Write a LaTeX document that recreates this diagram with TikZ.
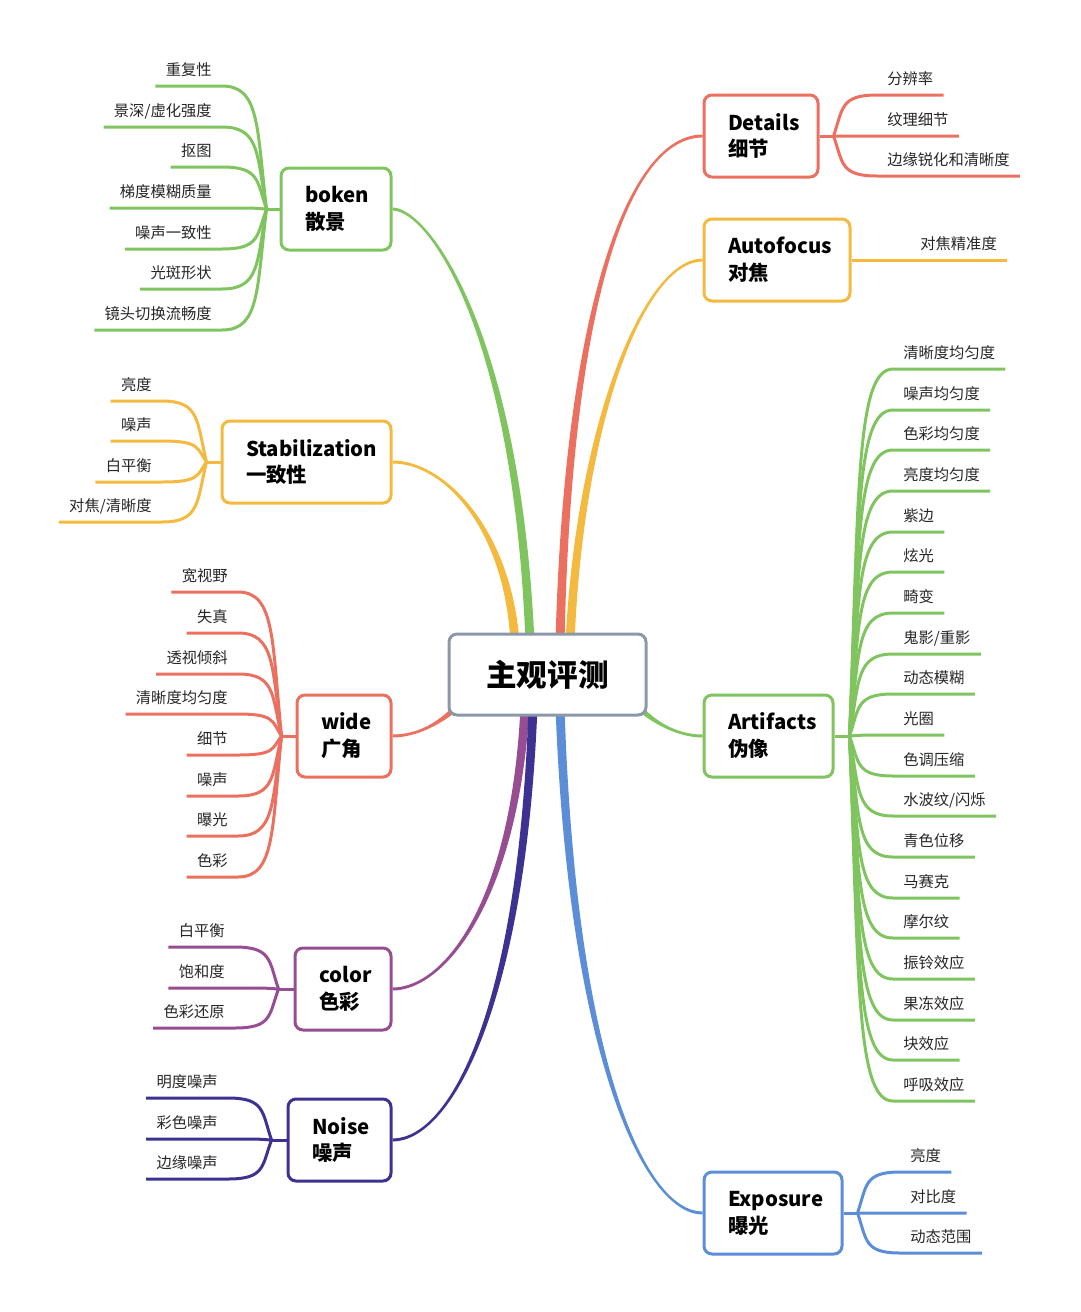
\documentclass[tikz,border=0pt]{standalone}
\usepackage{fontspec}
\setmainfont{Noto Sans CJK SC}
\usepackage{xcolor}
\definecolor{mmGreen}{RGB}{128,196,95}
\definecolor{mmRed}{RGB}{236,112,96}
\definecolor{mmOrange}{RGB}{244,186,64}
\definecolor{mmPurple}{RGB}{151,77,146}
\definecolor{mmIndigo}{RGB}{61,50,146}
\definecolor{mmBlue}{RGB}{92,142,216}
\definecolor{mmGray}{RGB}{140,152,170}
\usetikzlibrary{backgrounds, calc}
\newlength\pxu \setlength\pxu{0.02cm}
% tapered main branch: colour, start name, c1, c2, end name, end shift (left side), end shift (right side)
\newcommand\bough[7]{%
  \fill[#1] ([xshift=-4.5\pxu]#2) .. controls ([xshift=-3.5\pxu]#3) and ([yshift=#6\pxu]#4)
    .. ([yshift=#6\pxu]#5) -- ([yshift=#7\pxu]#5)
    .. controls ([yshift=#7\pxu]#4) and ([xshift=3.5\pxu]#3) .. ([xshift=4.5\pxu]#2) -- cycle;}

\begin{document}
\begin{tikzpicture}[x=0.02cm, y=-0.02cm,
  root/.style={rectangle, draw=mmGray, line width=3\pxu, fill=white,
               rounded corners=8\pxu, minimum width=197\pxu, minimum height=81\pxu,
               font=\fontsize{17.4}{20}\selectfont\bfseries},
  topic/.style={rectangle, line width=3\pxu, fill=white, rounded corners=8\pxu,
                minimum height=82\pxu, inner xsep=24\pxu, align=left,
                font=\fontsize{11.6}{15.3}\selectfont\bfseries},
  leafL/.style={anchor=south east, inner xsep=10\pxu, inner ysep=10\pxu, text depth=0pt,
                font=\fontsize{8.7}{10}\selectfont, text=black!85},
  leafR/.style={leafL, anchor=south west},
  twig/.style={line width=3\pxu},
  sweep/.style={to path={.. controls ($(\tikztostart)!0.85!(\tikztotarget |- \tikztostart)$)
      and ($(\tikztotarget)!0.4!(\tikztostart)!0.45!(\tikztotarget |- \tikztostart)$) .. (\tikztotarget)}}
]
\useasboundingbox (0,0) rectangle (1080,1312);

% Centre
\node[root] (root) at (547.5,674.5) {主观评测};

% Topics, left
\node[topic, draw=mmGreen, text width=62\pxu]   (boken) at (336,209)   {boken\\散景};
\node[topic, draw=mmOrange, text width=121\pxu] (stab)  at (306.5,462) {Stabilization\\一致性};
\node[topic, draw=mmRed, text width=46\pxu]     (wide)  at (344,736)   {wide\\广角};
\node[topic, draw=mmPurple, text width=48\pxu]  (color) at (343,989)   {color\\色彩};
\node[topic, draw=mmIndigo, text width=55\pxu]  (noise) at (339.5,1140) {Noise\\噪声};

% Topics, right
\node[topic, draw=mmRed, text width=66\pxu]    (details)   at (761,136)   {Details\\细节};
\node[topic, draw=mmOrange, text width=98\pxu] (autofocus) at (777,260)   {Autofocus\\对焦};
\node[topic, draw=mmGreen, text width=81\pxu]  (artifacts) at (768.5,736) {Artifacts\\伪像};
\node[topic, draw=mmBlue, text width=90\pxu]   (exposure)  at (773,1213)  {Exposure\\曝光};

% Branch roots inside the centre box
\coordinate (sBk) at ([xshift=-17.5\pxu,yshift=-10\pxu]root.north);
\coordinate (sSt) at ([xshift=-32.5\pxu,yshift=-10\pxu]root.north);
\coordinate (sDt) at ([xshift=12.5\pxu,yshift=-10\pxu]root.north);
\coordinate (sAf) at ([xshift=22.5\pxu,yshift=-10\pxu]root.north);
\coordinate (sWd) at ([xshift=14\pxu,yshift=14\pxu]root.south west);
\coordinate (sAr) at ([xshift=-14\pxu,yshift=14\pxu]root.south east);
\coordinate (sCl) at ([xshift=-22.5\pxu,yshift=10\pxu]root.south);
\coordinate (sNs) at ([xshift=-14.5\pxu,yshift=10\pxu]root.south);
\coordinate (sEx) at ([xshift=12.5\pxu,yshift=10\pxu]root.south);

% Forks
\coordinate (bkF) at ([xshift=-13\pxu]boken.west);
\coordinate (stF) at ([xshift=-14\pxu]stab.west);
\coordinate (wdF) at ([xshift=-14\pxu]wide.west);
\coordinate (clF) at ([xshift=-15\pxu]color.west);
\coordinate (nsF) at ([xshift=-15\pxu]noise.west);
\coordinate (dtF) at ([xshift=14\pxu]details.east);
\coordinate (arF) at ([xshift=15\pxu]artifacts.east);
\coordinate (exF) at ([xshift=14\pxu]exposure.east);

% Leaves: boken
\node[leafL] (bk1) at (222,86)  {重复性};
\node[leafL] (bk2) at (222,127) {景深/虚化强度};
\node[leafL] (bk3) at (222,167) {抠图};
\node[leafL] (bk4) at (222,208) {梯度模糊质量};
\node[leafL] (bk5) at (222,249) {噪声一致性};
\node[leafL] (bk6) at (222,289) {光斑形状};
\node[leafL] (bk7) at (222,330) {镜头切换流畅度};

% Leaves: stabilization
\node[leafL] (st1) at (162,401) {亮度};
\node[leafL] (st2) at (162,441) {噪声};
\node[leafL] (st3) at (162,482) {白平衡};
\node[leafL] (st4) at (162,522) {对焦/清晰度};

% Leaves: wide
\node[leafL] (wd1) at (238,592) {宽视野};
\node[leafL] (wd2) at (238,633) {失真};
\node[leafL] (wd3) at (238,674) {透视倾斜};
\node[leafL] (wd4) at (238,714) {清晰度均匀度};
\node[leafL] (wd5) at (238,755) {细节};
\node[leafL] (wd6) at (238,796) {噪声};
\node[leafL] (wd7) at (238,836) {曝光};
\node[leafL] (wd8) at (238,877) {色彩};

% Leaves: color
\node[leafL] (cl1) at (235,947)  {白平衡};
\node[leafL] (cl2) at (235,988)  {饱和度};
\node[leafL] (cl3) at (235,1028) {色彩还原};

% Leaves: noise
\node[leafL] (ns1) at (228,1098) {明度噪声};
\node[leafL] (ns2) at (228,1139) {彩色噪声};
\node[leafL] (ns3) at (228,1179) {边缘噪声};

% Leaves: details
\node[leafR] (dt1) at (877,95)  {分辨率};
\node[leafR] (dt2) at (877,136) {纹理细节};
\node[leafR] (dt3) at (877,176) {边缘锐化和清晰度};

% Leaves: autofocus
\node[leafR] (af1) at (910,260) {对焦精准度};

% Leaves: artifacts
\node[leafR] (ar1)  at (893,369)  {清晰度均匀度};
\node[leafR] (ar2)  at (893,410)  {噪声均匀度};
\node[leafR] (ar3)  at (893,450)  {色彩均匀度};
\node[leafR] (ar4)  at (893,491)  {亮度均匀度};
\node[leafR] (ar5)  at (893,532)  {紫边};
\node[leafR] (ar6)  at (893,572)  {炫光};
\node[leafR] (ar7)  at (893,613)  {畸变};
\node[leafR] (ar8)  at (893,654)  {鬼影/重影};
\node[leafR] (ar9)  at (893,694)  {动态模糊};
\node[leafR] (ar10) at (893,735)  {光圈};
\node[leafR] (ar11) at (893,776)  {色调压缩};
\node[leafR] (ar12) at (893,816)  {水波纹/闪烁};
\node[leafR] (ar13) at (893,857)  {青色位移};
\node[leafR] (ar14) at (893,898)  {马赛克};
\node[leafR] (ar15) at (893,938)  {摩尔纹};
\node[leafR] (ar16) at (893,979)  {振铃效应};
\node[leafR] (ar17) at (893,1020) {果冻效应};
\node[leafR] (ar18) at (893,1060) {块效应};
\node[leafR] (ar19) at (893,1101) {呼吸效应};

% Leaves: exposure
\node[leafR] (ex1) at (900,1172) {亮度};
\node[leafR] (ex2) at (900,1213) {对比度};
\node[leafR] (ex3) at (900,1253) {动态范围};

\begin{scope}[on background layer]
% Main branches
\bough{mmGreen}{sBk}{517,330}{428,209}{boken.east}{-1.5}{1.5}
\bough{mmOrange}{sSt}{508,530}{445,462}{stab.east}{-1.5}{1.5}
\bough{mmRed}{sWd}{440,725}{415,736}{wide.east}{1.5}{-1.5}
\bough{mmPurple}{sCl}{515,900}{445,989}{color.east}{1.5}{-1.5}
\bough{mmIndigo}{sNs}{522,1010}{450,1140}{noise.east}{1.5}{-1.5}
\bough{mmRed}{sDt}{568,300}{630,136}{details.west}{1.5}{-1.5}
\bough{mmOrange}{sAf}{580,420}{645,260}{autofocus.west}{1.5}{-1.5}
\bough{mmGreen}{sAr}{655,725}{680,736}{artifacts.west}{-1.5}{1.5}
\bough{mmBlue}{sEx}{572,1060}{645,1213}{exposure.west}{-1.5}{1.5}

% Stubs
\draw[twig, mmGreen]  (boken.west) -- (bkF);
\draw[twig, mmOrange] (stab.west) -- (stF);
\draw[twig, mmRed]    (wide.west) -- (wdF);
\draw[twig, mmPurple] (color.west) -- (clF);
\draw[twig, mmIndigo] (noise.west) -- (nsF);
\draw[twig, mmRed]    (details.east) -- (dtF);
\draw[twig, mmGreen]  (artifacts.east) -- (arF);
\draw[twig, mmBlue]   (exposure.east) -- (exF);

% Twigs: boken
\draw[twig, mmGreen] (bk1.south west) -- (bk1.south east) to[sweep] (bkF);
\draw[twig, mmGreen] (bk2.south west) -- (bk2.south east) to[sweep] (bkF);
\draw[twig, mmGreen] (bk3.south west) -- (bk3.south east) to[sweep] (bkF);
\draw[twig, mmGreen] (bk4.south west) -- (bk4.south east) to[sweep] (bkF);
\draw[twig, mmGreen] (bk5.south west) -- (bk5.south east) to[sweep] (bkF);
\draw[twig, mmGreen] (bk6.south west) -- (bk6.south east) to[sweep] (bkF);
\draw[twig, mmGreen] (bk7.south west) -- (bk7.south east) to[sweep] (bkF);

% Twigs: stabilization
\draw[twig, mmOrange] (st1.south west) -- (st1.south east) to[sweep] (stF);
\draw[twig, mmOrange] (st2.south west) -- (st2.south east) to[sweep] (stF);
\draw[twig, mmOrange] (st3.south west) -- (st3.south east) to[sweep] (stF);
\draw[twig, mmOrange] (st4.south west) -- (st4.south east) to[sweep] (stF);

% Twigs: wide
\draw[twig, mmRed] (wd1.south west) -- (wd1.south east) to[sweep] (wdF);
\draw[twig, mmRed] (wd2.south west) -- (wd2.south east) to[sweep] (wdF);
\draw[twig, mmRed] (wd3.south west) -- (wd3.south east) to[sweep] (wdF);
\draw[twig, mmRed] (wd4.south west) -- (wd4.south east) to[sweep] (wdF);
\draw[twig, mmRed] (wd5.south west) -- (wd5.south east) to[sweep] (wdF);
\draw[twig, mmRed] (wd6.south west) -- (wd6.south east) to[sweep] (wdF);
\draw[twig, mmRed] (wd7.south west) -- (wd7.south east) to[sweep] (wdF);
\draw[twig, mmRed] (wd8.south west) -- (wd8.south east) to[sweep] (wdF);

% Twigs: color
\draw[twig, mmPurple] (cl1.south west) -- (cl1.south east) to[sweep] (clF);
\draw[twig, mmPurple] (cl2.south west) -- (cl2.south east) to[sweep] (clF);
\draw[twig, mmPurple] (cl3.south west) -- (cl3.south east) to[sweep] (clF);

% Twigs: noise
\draw[twig, mmIndigo] (ns1.south west) -- (ns1.south east) to[sweep] (nsF);
\draw[twig, mmIndigo] (ns2.south west) -- (ns2.south east) to[sweep] (nsF);
\draw[twig, mmIndigo] (ns3.south west) -- (ns3.south east) to[sweep] (nsF);

% Twigs: details
\draw[twig, mmRed] (dt1.south east) -- (dt1.south west) to[sweep] (dtF);
\draw[twig, mmRed] (dt2.south east) -- (dt2.south west) to[sweep] (dtF);
\draw[twig, mmRed] (dt3.south east) -- (dt3.south west) to[sweep] (dtF);

% Twig: autofocus
\draw[twig, mmOrange] (autofocus.east) -- (af1.south east);

% Twigs: artifacts
\draw[twig, mmGreen] (ar1.south east) -- (ar1.south west) to[sweep] (arF);
\draw[twig, mmGreen] (ar2.south east) -- (ar2.south west) to[sweep] (arF);
\draw[twig, mmGreen] (ar3.south east) -- (ar3.south west) to[sweep] (arF);
\draw[twig, mmGreen] (ar4.south east) -- (ar4.south west) to[sweep] (arF);
\draw[twig, mmGreen] (ar5.south east) -- (ar5.south west) to[sweep] (arF);
\draw[twig, mmGreen] (ar6.south east) -- (ar6.south west) to[sweep] (arF);
\draw[twig, mmGreen] (ar7.south east) -- (ar7.south west) to[sweep] (arF);
\draw[twig, mmGreen] (ar8.south east) -- (ar8.south west) to[sweep] (arF);
\draw[twig, mmGreen] (ar9.south east) -- (ar9.south west) to[sweep] (arF);
\draw[twig, mmGreen] (ar10.south east) -- (ar10.south west) to[sweep] (arF);
\draw[twig, mmGreen] (ar11.south east) -- (ar11.south west) to[sweep] (arF);
\draw[twig, mmGreen] (ar12.south east) -- (ar12.south west) to[sweep] (arF);
\draw[twig, mmGreen] (ar13.south east) -- (ar13.south west) to[sweep] (arF);
\draw[twig, mmGreen] (ar14.south east) -- (ar14.south west) to[sweep] (arF);
\draw[twig, mmGreen] (ar15.south east) -- (ar15.south west) to[sweep] (arF);
\draw[twig, mmGreen] (ar16.south east) -- (ar16.south west) to[sweep] (arF);
\draw[twig, mmGreen] (ar17.south east) -- (ar17.south west) to[sweep] (arF);
\draw[twig, mmGreen] (ar18.south east) -- (ar18.south west) to[sweep] (arF);
\draw[twig, mmGreen] (ar19.south east) -- (ar19.south west) to[sweep] (arF);

% Twigs: exposure
\draw[twig, mmBlue] (ex1.south east) -- (ex1.south west) to[sweep] (exF);
\draw[twig, mmBlue] (ex2.south east) -- (ex2.south west) to[sweep] (exF);
\draw[twig, mmBlue] (ex3.south east) -- (ex3.south west) to[sweep] (exF);
\end{scope}

\end{tikzpicture}
\end{document}
